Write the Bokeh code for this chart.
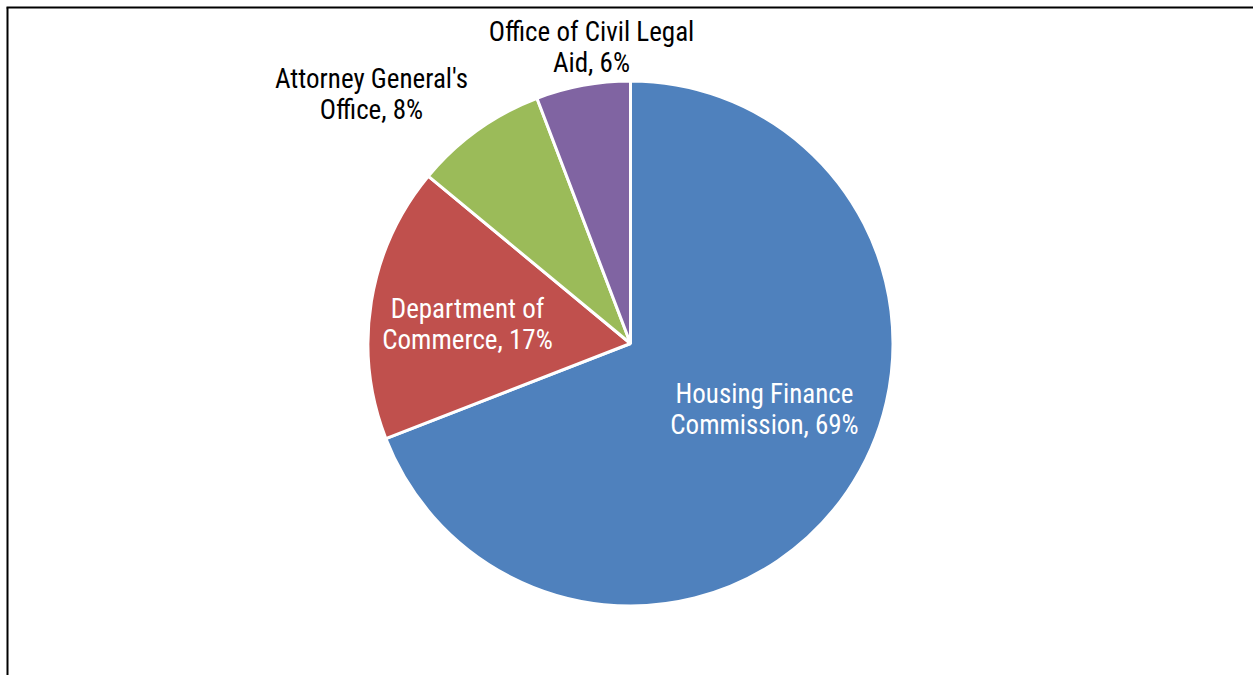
import numpy as np
from bokeh.plotting import figure
from bokeh.models import Range1d, ColumnDataSource
from bokeh.core.properties import value
from bokeh.embed import file_html
from bokeh.resources import INLINE

# ---- data ----
categories = ["Housing Finance Commission", "Department of Commerce",
              "Attorney General's Office", "Office of Civil Legal Aid"]
shares = [69.1, 16.9, 8.2, 5.8]
label_text = ["Housing Finance\nCommission, 69%", "Department of\nCommerce, 17%",
              "Attorney General's\nOffice, 8%", "Office of Civil Legal\nAid, 6%"]
colors = ["#4F81BD", "#C0504D", "#9BBB59", "#8064A2"]
label_colors = ["white", "white", "black", "black"]

# ---- layout (pixel-matched data space) ----
W, H = 1253, 675
cx, cy, R = 630, 332, 262.5
label_x = [764, 467, 371, 591]
label_y = [266, 351, 581, 628]

vals = np.array(shares, dtype=float)
frac = vals / vals.sum()
cum = np.concatenate([[0.0], np.cumsum(frac)])
start = np.pi / 2 - 2 * np.pi * cum[:-1]
end = np.pi / 2 - 2 * np.pi * cum[1:]

src = ColumnDataSource(dict(cat=categories, start=start, end=end, color=colors,
                            lx=label_x, ly=label_y, txt=label_text, tc=label_colors))

p = figure(width=W, height=H, output_backend="svg", toolbar_location=None,
           x_range=Range1d(0, W), y_range=Range1d(0, H), min_border=0,
           match_aspect=False)
p.axis.visible = False
p.grid.visible = False
p.outline_line_color = None
p.background_fill_color = "white"
p.border_fill_color = "white"

p.wedge(x=cx, y=cy, radius=R, start_angle="start", end_angle="end",
        direction="clock", fill_color="color", line_color="white", line_width=3,
        source=src)

p.text(x="lx", y="ly", text="txt", text_color="tc", source=src,
       text_font=value("'Liberation Sans Narrow', 'Arial Narrow', 'Roboto Condensed', sans-serif"),
       text_font_size="27px", text_align="center", text_baseline="middle",
       text_line_height=0.96)

# chart border (top and left edges visible)
p.line(x=[7, 7], y=[0, 668], line_color="black", line_width=2)
p.line(x=[6, W], y=[668, 668], line_color="black", line_width=2)

open("out.html", "w").write(file_html(p, INLINE))
